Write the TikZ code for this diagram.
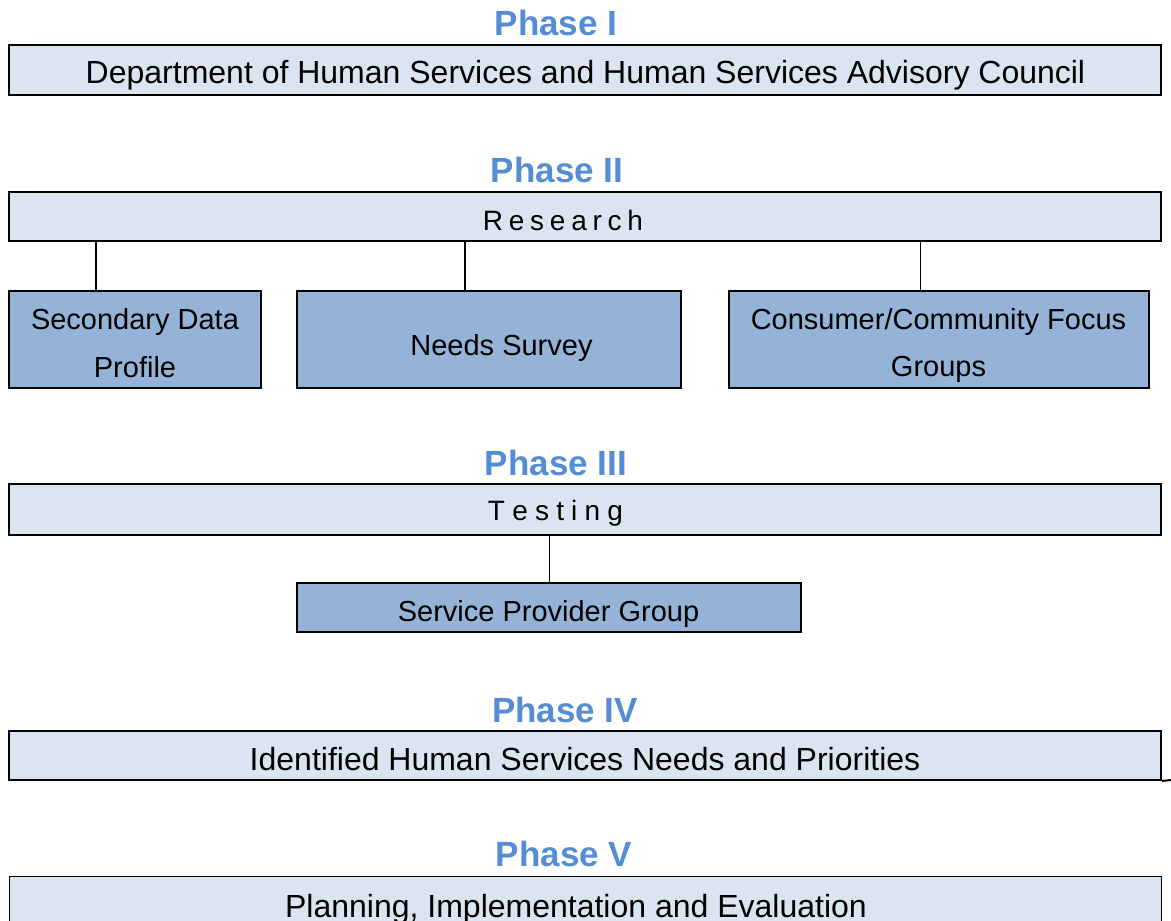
\documentclass[tikz,border=0pt]{standalone}
\usepackage{fontspec}
\setmainfont{Liberation Sans}
\definecolor{phaseblue}{HTML}{548DD4}
\definecolor{lightfill}{HTML}{DBE5F1}
\definecolor{midfill}{HTML}{95B3D7}
\begin{document}
\begin{tikzpicture}[x=1pt,y=-1pt,
  phasebox/.style={draw=black, line width=2pt, fill=lightfill, rectangle, inner sep=0pt},
  childbox/.style={draw=black, line width=2pt, fill=midfill, rectangle, inner sep=0pt},
  phaselabel/.style={text=phaseblue, font=\bfseries\fontsize{35}{40}\selectfont, anchor=base, inner sep=0pt},
  boxtext/.style={font=\fontsize{32}{38}\selectfont, anchor=base, inner sep=0pt},
  spacedtext/.style={font=\fontsize{28}{34}\selectfont, anchor=base, inner sep=0pt},
  childtext/.style={font=\fontsize{29}{47.5}\selectfont, inner sep=0pt, align=center},
  link/.style={line width=1.5pt},
  thinlink/.style={line width=1pt}]
\useasboundingbox (0,0) rectangle (1171,921);
\fill[white] (0,0) rectangle (1171,921);

% Phase I
\node[phaselabel] (p1) at (556,35) {Phase I};
\node[phasebox, minimum width=1152pt, minimum height=50pt] (b1) at (585,70) {};
\node[boxtext] (t1) at (585.5,83.5) {Department of Human Services and Human Services Advisory Council};

% Phase II
\node[phaselabel] (p2) at (557,182) {Phase II};
\node[phasebox, line width=2.5pt, minimum width=1152pt, minimum height=49pt] (b2) at (585,216.5) {};
\node[spacedtext] (t2) at (563,230) {R\kern5.75pt e\kern5.75pt s\kern5.75pt e\kern5.75pt a\kern5.75pt r\kern5.75pt c\kern5.75pt h};

\node[childbox, minimum width=252pt, minimum height=97pt] (cA) at (135,339.5) {};
\node[childbox, minimum width=384pt, minimum height=97pt] (cB) at (489,339.5) {};
\node[childbox, minimum width=420pt, minimum height=97pt] (cC) at (939,339.5) {};
\node[childtext] (tA) at (135,343) {Secondary Data\\Profile};
\node[childtext, anchor=base] (tB) at (501.5,355) {Needs Survey};
\node[childtext] (tC) at (938.5,345.5) {Consumer/Community Focus\\Groups};

\draw[link] ([xshift=-39pt]cA.north) -- ([xshift=-39pt]cA.north |- b2.south);
\draw[link] ([xshift=-24pt]cB.north) -- ([xshift=-24pt]cB.north |- b2.south);
\draw[thinlink] ([xshift=-19pt]cC.north) -- ([xshift=-19pt]cC.north |- b2.south);

% Phase III
\node[phaselabel] (p3) at (556,475) {Phase III};
\node[phasebox, minimum width=1152pt, minimum height=51pt] (b3) at (585,509.5) {};
\node[spacedtext] (t3) at (555.5,520) {T\kern7.2pt e\kern7.2pt s\kern7.2pt t\kern7.2pt i\kern7.2pt n\kern7.2pt g};
\node[childbox, minimum width=504pt, minimum height=49pt] (sp) at (549,607.5) {};
\node[childtext, anchor=base] (tsp) at (548.5,621) {Service Provider Group};
\draw[thinlink] (sp.north) -- (sp.north |- b3.south);

% Phase IV
\node[phaselabel] (p4) at (565,722) {Phase IV};
\node[phasebox, minimum width=1152pt, minimum height=49pt] (b4) at (585,755.5) {};
\node[boxtext] (t4) at (585,770) {Identified Human Services Needs and Priorities};
\coordinate (b4tail) at (1171,780);
\draw[line width=2pt] (b4.south east) -- (b4tail);

% Phase V
\node[phaselabel] (p5) at (564,866) {Phase V};
\node[phasebox, line width=1pt, minimum width=1152pt, minimum height=90pt] (b5) at (585,921) {};
\node[boxtext] (t5) at (576,917) {Planning, Implementation and Evaluation};
\end{tikzpicture}
\end{document}
